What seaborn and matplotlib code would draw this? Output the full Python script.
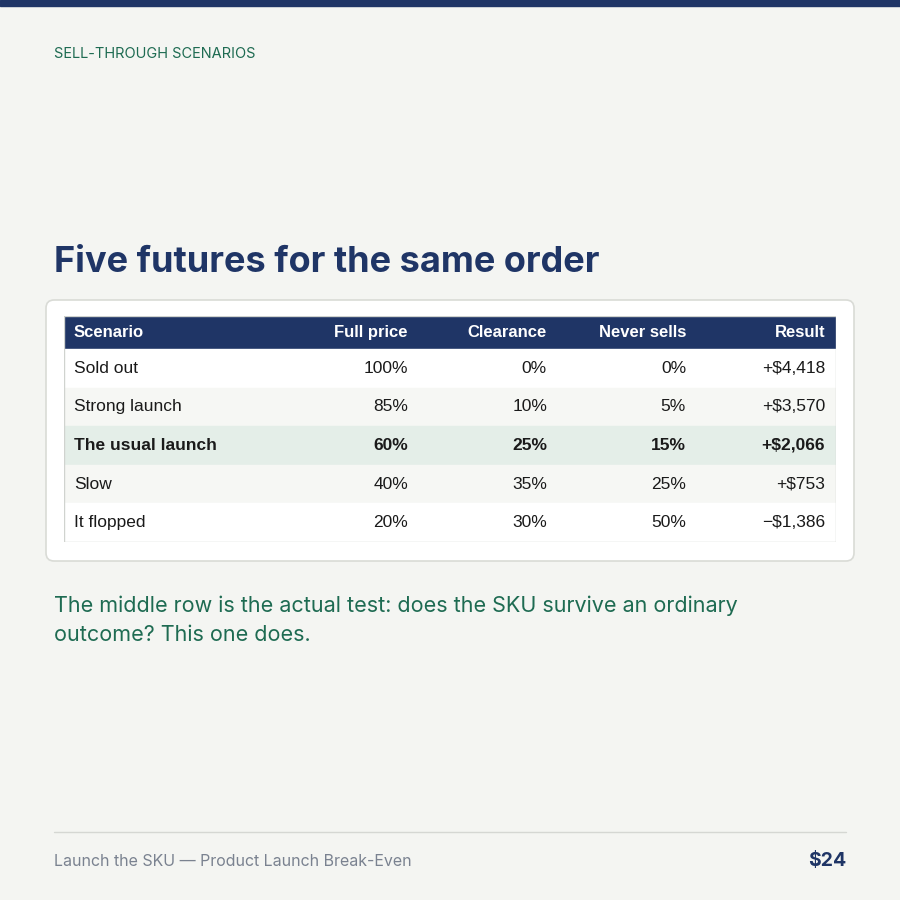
import matplotlib
matplotlib.use("Agg")
import matplotlib.pyplot as plt
import seaborn as sns
from matplotlib.patches import FancyBboxPatch, Rectangle

sns.set_theme(style="white")
plt.rcParams['font.family'] = ['Liberation Sans', 'DejaVu Sans']

columns = ["Scenario", "Full price", "Clearance", "Never sells", "Result"]
scenarios = ["Sold out", "Strong launch", "The usual launch", "Slow", "It flopped"]
full_price = ["100%", "85%", "60%", "40%", "20%"]
clearance = ["0%", "10%", "25%", "35%", "30%"]
never_sells = ["0%", "5%", "15%", "25%", "50%"]
result = ["+$4,418", "+$3,570", "+$2,066", "+$753", "\u2212$1,386"]
highlight_row = 2

NAVY = "#1f3566"; GREEN = "#1e6b52"; BG = "#f4f5f2"
DISP = ['Inter', 'DejaVu Sans']
W = H = 900
fig = plt.figure(figsize=(9, 9), dpi=100, facecolor=BG)

def fx(x): return x / W
def fy(y): return 1 - y / H

fig.patches.append(Rectangle((0, fy(6)), 1, 6 / H, transform=fig.transFigure, color=NAVY, zorder=-2))
fig.text(fx(54), fy(54), "SELL-THROUGH SCENARIOS", color=GREEN, fontsize=10.5, family=DISP, va='center')
fig.text(fx(54), fy(262), "Five futures for the same order", color=NAVY, fontsize=26, fontweight='bold', family=DISP, va='center')
fig.patches.append(FancyBboxPatch((fx(46), fy(561)), fx(808), (561 - 300) / H,
                                  boxstyle="round,pad=0,rounding_size=0.009", transform=fig.transFigure,
                                  facecolor="white", edgecolor="#d9dbd6", lw=1.2, zorder=-2))

hh = 33 / 38.6
ax = fig.add_axes([fx(64), fy(542), 772 / W, (542 - 316) / H])
ax.set_zorder(5)
ax.patch.set_alpha(0)
ax.set_xlim(0, 772); ax.set_ylim(5, -hh)
ax.axis('off')
ax.axhspan(-hh, 0, color=NAVY)
row_colors = ["white", "#f6f7f4", "#e4eee8", "#f6f7f4", "white"]
for i, c in enumerate(row_colors):
    ax.axhspan(i, i + 1, color=c)
ax.add_patch(Rectangle((0, -hh), 772, 5 + hh, fill=False, ec="#d0d3cf", lw=1))
xs = [10, 344, 483, 622, 761]
has = ['left', 'right', 'right', 'right', 'right']
for x, ha, col in zip(xs, has, columns):
    ax.text(x, -hh / 2, col, color='white', fontsize=12, fontweight='bold', ha=ha, va='center')
for i in range(len(scenarios)):
    vals = [scenarios[i], full_price[i], clearance[i], never_sells[i], result[i]]
    for x, ha, v in zip(xs, has, vals):
        ax.text(x, i + 0.5, v, color='#1a1a1a', fontsize=12.5, ha=ha, va='center',
                fontweight='bold' if i == highlight_row else 'normal')

cap = dict(color=GREEN, fontsize=15.5, family=DISP, va='center')
fig.text(fx(54), fy(606), "The middle row is the actual test: does the SKU survive an ordinary", **cap)
fig.text(fx(54), fy(635), "outcome? This one does.", **cap)

fig.lines.append(plt.Line2D([fx(54), fx(846)], [fy(832), fy(832)], transform=fig.transFigure, color="#d5d7d3", lw=1))
fig.text(fx(54), fy(861), "Launch the SKU \u2014 Product Launch Break-Even", color="#7a8290", fontsize=11.5, family=DISP, va='center')
fig.text(fx(846), fy(861), "$24", color=NAVY, fontsize=14, fontweight='bold', family=DISP, va='center', ha='right')

fig.savefig("out.png", dpi=100, facecolor=BG)
